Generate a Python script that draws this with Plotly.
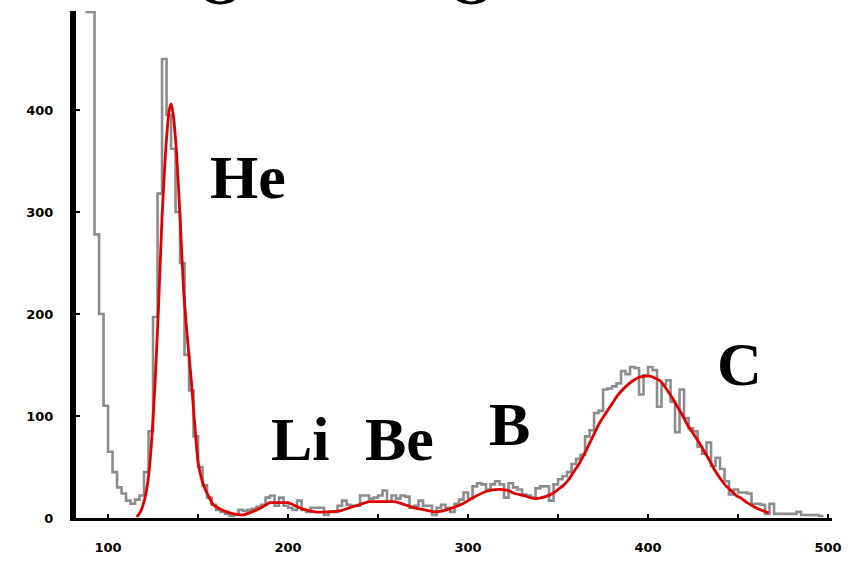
import numpy as np
import plotly.graph_objects as go

# Histogram (gray): bins of equal width
bin_start = 87.5
bin_width = 2.5
hist_counts = [
    496, 496, 278, 200, 110, 65, 45, 30, 24, 17,      # 87.5 - 110
    14, 18, 22, 45, 85, 197, 318, 450, 395, 362,      # 112.5 - 135
    300, 250, 160, 125, 80, 50, 32, 20, 13, 8,        # 137.5 - 160
    6, 4, 2, 3, 8, 7, 8, 9, 11, 13,                   # 162.5 - 185
    20, 22, 12, 20, 12, 10, 8, 17, 8, 6,              # 187.5 - 210
    10, 10, 10, 3, 6, 6, 12, 17, 13, 12,              # 212.5 - 235
    12, 22, 22, 19, 20, 22, 27, 16, 22, 19,           # 237.5 - 260
    22, 21, 10, 12, 17, 12, 12, 3, 10, 13,            # 262.5 - 285
    10, 6, 14, 18, 25, 19, 31, 34, 33, 28,            # 287.5 - 310
    33, 36, 33, 20, 34, 30, 28, 23, 22, 20,           # 312.5 - 335
    29, 31, 31, 17, 33, 38, 41, 45, 53, 58,           # 337.5 - 360
    62, 80, 86, 103, 105, 126, 127, 129, 132, 144,    # 362.5 - 385
    141, 148, 147, 121, 140, 148, 145, 109, 131, 135, # 387.5 - 410
    114, 84, 126, 98, 88, 85, 70, 63, 74, 51,         # 412.5 - 435
    59, 48, 36, 23, 28, 25, 25, 24, 14, 14,           # 437.5 - 460
    13, 4, 14, 4, 4, 4, 4, 4, 6, 3,                   # 462.5 - 485
    3, 3, 3, 2,                                       # 487.5 - 495
]

# Fit curve (red)
fit_x = [116, 118, 120, 122, 124, 126, 128, 130, 132, 134, 135, 136, 138, 140,
         142, 144, 146, 148, 150, 152, 154, 156, 158, 162, 166, 170, 175, 180,
         185, 190, 195, 200, 204, 208, 215, 222, 229, 234, 238, 245, 252, 259,
         265, 270, 276, 282, 288, 293, 297, 300, 304, 310, 317, 322, 326, 331,
         337, 343, 347, 350, 353, 356, 359, 362, 365, 368, 371, 374, 377, 380,
         383, 386, 389, 392, 395, 398, 401, 404, 407, 410, 413, 416, 419, 422,
         425, 428, 431, 434, 437, 440, 443, 446, 449, 452, 455, 458, 461, 464, 467]
fit_y = [1, 6, 16, 34, 70, 128, 205, 295, 360, 400, 406, 398, 360, 295,
         222, 178, 140, 95, 55, 38, 28, 21, 14, 9, 6, 4, 3, 6,
         10, 15, 15, 15, 12, 9, 6, 6, 7, 10, 12, 16, 16, 16,
         13, 10, 8, 6, 8, 11, 14, 17, 21, 26, 28, 27, 24, 22,
         19, 21, 24, 28, 32, 38, 46, 54, 64, 75, 86, 96, 104, 112,
         120, 126, 131, 135, 138, 139, 139, 137, 134, 127, 119, 110, 101, 91,
         83, 75, 66, 57, 47, 39, 32, 27, 22, 19, 15, 12, 9, 7, 5]

x_ticks = [100, 200, 300, 400, 500]
y_ticks = [0, 100, 200, 300, 400]

element_labels = ["He", "Li", "Be", "B", "C"]
label_x = [177.8, 206.7, 262, 323, 451]
label_y = [334, 77, 77, 92, 151]

# letters of a heading cut off by the top edge of the picture (as in the reference)
top_letters = ["O", "O"]
top_x = [162.2, 301.7]

n = len(hist_counts)
edges = bin_start + bin_width * np.arange(n + 1)
hist_y = list(hist_counts) + [hist_counts[-1]]

fig = go.Figure()
fig.add_trace(go.Scatter(
    x=edges, y=hist_y, mode="lines",
    line=dict(color="#8c8c8c", width=2.6, shape="hv"),
    hoverinfo="skip", showlegend=False,
))
fig.add_trace(go.Scatter(
    x=fit_x, y=fit_y, mode="lines",
    line=dict(color="#e00000", width=2.8, shape="spline", smoothing=0.5),
    hoverinfo="skip", showlegend=False,
))

serif = "Liberation Serif"
for t, xx, yy in zip(element_labels, label_x, label_y):
    fig.add_annotation(x=xx, y=yy, text=t, showarrow=False,
                       font=dict(family=serif, size=62, color="black", weight="bold"),
                       xanchor="center", yanchor="middle")
for t, xx in zip(top_letters, top_x):
    fig.add_annotation(x=xx, xref="x", y=1.0, yref="paper", yshift=28, text=t,
                       showarrow=False,
                       font=dict(family=serif, size=62, color="black", weight="bold"),
                       xanchor="center", yanchor="middle")

tick_font = dict(family="DejaVu Sans", size=13, color="black", weight="bold")
fig.update_layout(
    width=854, height=565,
    margin=dict(l=76, r=22, t=11, b=47),
    paper_bgcolor="white", plot_bgcolor="white",
    showlegend=False,
    xaxis=dict(
        range=[82.2, 502.2], showgrid=False, zeroline=False,
        showline=True, linecolor="black", linewidth=3,
        tickmode="array", tickvals=x_ticks, ticktext=[str(v) for v in x_ticks],
        ticks="inside", ticklen=4, tickwidth=2, tickcolor="black",
        minor=dict(dtick=50, tick0=0, ticks="inside", ticklen=4, tickwidth=2, tickcolor="black"),
        tickfont=tick_font, ticklabelstandoff=15,
    ),
    yaxis=dict(
        range=[0, 497], showgrid=False, zeroline=False,
        showline=True, linecolor="black", linewidth=6,
        tickmode="array", tickvals=y_ticks, ticktext=[str(v) for v in y_ticks],
        ticks="inside", ticklen=4, tickwidth=2, tickcolor="black",
        tickfont=tick_font, ticklabelstandoff=14,
    ),
)

fig.write_html("out.html")
